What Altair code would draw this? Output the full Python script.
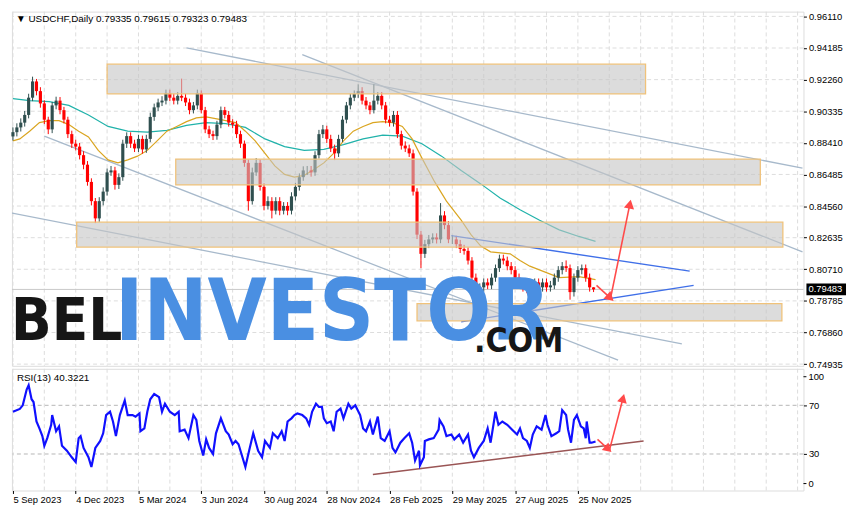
import math
import altair as alt
import pandas as pd

# ---------------- data ----------------
date_labels = ["5 Sep 2023", "4 Dec 2023", "5 Mar 2024", "3 Jun 2024", "30 Aug 2024",
               "28 Nov 2024", "28 Feb 2025", "29 May 2025", "27 Aug 2025", "25 Nov 2025"]
label_bars = [0, 64, 128, 192, 256, 320, 384, 448, 512, 576]
price_ticks = [0.96110, 0.94185, 0.92260, 0.90335, 0.88410, 0.86485,
               0.84560, 0.82635, 0.80710, 0.78785, 0.76860, 0.74935]
rsi_levels = [70, 30]

# one candle = 4 daily bars
first_open = 0.8880
closes = [
    0.8906, 0.8935, 0.8964, 0.9011, 0.9116, 0.9215, 0.9156, 0.9081, 0.8982, 0.8923,
    0.9069, 0.9098, 0.9040, 0.8982, 0.8894, 0.8836, 0.8818, 0.8766, 0.8708, 0.8603,
    0.8486, 0.8381, 0.8486, 0.8544, 0.8661, 0.8673, 0.8585, 0.8632, 0.8836, 0.8882,
    0.8836, 0.8807, 0.8865, 0.8801, 0.8865, 0.8999, 0.9057, 0.9087, 0.9098, 0.9145,
    0.9116, 0.9098, 0.9127, 0.9116, 0.9087, 0.9040, 0.9069, 0.9145, 0.9040, 0.8923,
    0.8894, 0.8882, 0.8952, 0.9040, 0.9011, 0.8964, 0.8952, 0.8894, 0.8836, 0.8719,
    0.8486, 0.8661, 0.8719, 0.8573, 0.8457, 0.8486, 0.8428, 0.8486, 0.8428, 0.8457,
    0.8428, 0.8515, 0.8573, 0.8632, 0.8673, 0.8673, 0.8661, 0.8766, 0.8894, 0.8923,
    0.8865, 0.8807, 0.8777, 0.8865, 0.8982, 0.9069, 0.9116, 0.9139, 0.9156, 0.9098,
    0.9069, 0.9040, 0.9098, 0.9127, 0.9069, 0.8982, 0.8964, 0.9011, 0.8894, 0.8824,
    0.8807, 0.8777, 0.8544, 0.8282, 0.8165, 0.8224, 0.8253, 0.8265, 0.8253, 0.8399,
    0.8340, 0.8253, 0.8253, 0.8224, 0.8195, 0.8183, 0.8124, 0.8020, 0.7932, 0.7961,
    0.7991, 0.7973, 0.8020, 0.8078, 0.8136, 0.8124, 0.8090, 0.8066, 0.8020, 0.7991,
    0.7961, 0.7950, 0.7903, 0.7991, 0.7961, 0.7991, 0.7961, 0.7973, 0.8020, 0.8066,
    0.8090, 0.8078, 0.7932, 0.8020, 0.8066, 0.8078, 0.8020, 0.7961, 0.79483]
highs = [
    0.8935, 0.8960, 0.8990, 0.9035, 0.9140, 0.9244, 0.9230, 0.9180, 0.9100, 0.9000,
    0.9090, 0.9122, 0.9120, 0.9060, 0.9000, 0.8915, 0.8860, 0.8840, 0.8790, 0.8730,
    0.8625, 0.8505, 0.8510, 0.8570, 0.8685, 0.8700, 0.8695, 0.8655, 0.8860, 0.8905,
    0.8905, 0.8860, 0.8890, 0.8885, 0.8890, 0.9025, 0.9080, 0.9110, 0.9125, 0.9165,
    0.9165, 0.9140, 0.9150, 0.9232, 0.9140, 0.9110, 0.9090, 0.9165, 0.9160, 0.9060,
    0.8945, 0.8915, 0.8975, 0.9062, 0.9060, 0.9035, 0.8985, 0.8975, 0.8915, 0.8855,
    0.8740, 0.8690, 0.8748, 0.8740, 0.8595, 0.8515, 0.8510, 0.8510, 0.8510, 0.8480,
    0.8480, 0.8540, 0.8598, 0.8655, 0.8698, 0.8700, 0.8700, 0.8790, 0.8920, 0.8950,
    0.8945, 0.8890, 0.8830, 0.8890, 0.9005, 0.9090, 0.9140, 0.9160, 0.9197, 0.9180,
    0.9120, 0.9090, 0.9197, 0.9150, 0.9150, 0.9090, 0.9005, 0.9035, 0.9035, 0.8915,
    0.8850, 0.8830, 0.8800, 0.8565, 0.8305, 0.8250, 0.8280, 0.8290, 0.8290, 0.8474,
    0.8425, 0.8365, 0.8280, 0.8275, 0.8250, 0.8220, 0.8205, 0.8145, 0.8045, 0.7985,
    0.8015, 0.8015, 0.8045, 0.8100, 0.8160, 0.8160, 0.8148, 0.8115, 0.8090, 0.8045,
    0.8015, 0.7985, 0.7975, 0.8015, 0.8015, 0.8015, 0.8015, 0.8000, 0.8045, 0.8090,
    0.8115, 0.8125, 0.8100, 0.8045, 0.8090, 0.8100, 0.8100, 0.8045, 0.79615]
lows = [
    0.8855, 0.8880, 0.8910, 0.8940, 0.8990, 0.9095, 0.9130, 0.9055, 0.8955, 0.8894,
    0.8900, 0.9045, 0.9015, 0.8960, 0.8870, 0.8810, 0.8795, 0.8740, 0.8680, 0.8580,
    0.8460, 0.8352, 0.8360, 0.8460, 0.8520, 0.8640, 0.8556, 0.8560, 0.8610, 0.8810,
    0.8810, 0.8785, 0.8785, 0.8775, 0.8780, 0.8845, 0.8975, 0.9035, 0.9065, 0.9075,
    0.9095, 0.9075, 0.9075, 0.9095, 0.9065, 0.9015, 0.9020, 0.9045, 0.9020, 0.8900,
    0.8870, 0.8858, 0.8860, 0.8930, 0.8990, 0.8940, 0.8930, 0.8870, 0.8810, 0.8695,
    0.8428, 0.8465, 0.8640, 0.8550, 0.8430, 0.8435, 0.8381, 0.8405, 0.8400, 0.8405,
    0.8400, 0.8405, 0.8490, 0.8550, 0.8610, 0.8645, 0.8635, 0.8640, 0.8745, 0.8870,
    0.8840, 0.8785, 0.8736, 0.8755, 0.8845, 0.8960, 0.9045, 0.9095, 0.9115, 0.9075,
    0.9045, 0.9015, 0.9020, 0.9075, 0.9045, 0.8960, 0.8940, 0.8940, 0.8870, 0.8800,
    0.8785, 0.8755, 0.8520, 0.8255, 0.8078, 0.8140, 0.8200, 0.8230, 0.8228, 0.8230,
    0.8315, 0.8230, 0.8225, 0.8200, 0.8170, 0.8160, 0.8100, 0.7995, 0.7874, 0.7905,
    0.7935, 0.7950, 0.7950, 0.7995, 0.8055, 0.8100, 0.8065, 0.8040, 0.7995, 0.7965,
    0.7935, 0.7925, 0.7833, 0.7880, 0.7935, 0.7935, 0.7935, 0.7935, 0.7950, 0.7995,
    0.8040, 0.8055, 0.7886, 0.7905, 0.7995, 0.8040, 0.7995, 0.7935, 0.79323]

slow_ma_bar = [0, 17, 37, 57, 77, 97, 117, 137, 157, 177, 197, 217, 237, 257, 277, 297,
               317, 337, 357, 377, 397, 417, 437, 457, 477, 497, 517, 537, 557, 577, 594]
slow_ma = [0.9110, 0.9098, 0.9092, 0.9069, 0.9011, 0.8941, 0.8912, 0.8906, 0.8917, 0.8947,
           0.8964, 0.8958, 0.8935, 0.8865, 0.8818, 0.8795, 0.8801, 0.8830, 0.8865, 0.8888,
           0.8882, 0.8836, 0.8760, 0.8673, 0.8591, 0.8504, 0.8434, 0.8370, 0.8311, 0.8271, 0.8241]
fast_ma_bar = [0, 7, 17, 27, 37, 47, 57, 67, 77, 87,
               97, 107, 117, 127, 137, 147, 157, 167, 177, 187,
               197, 212, 227, 237, 247, 257, 267, 277, 287, 297,
               307, 317, 327, 337, 347, 357, 367, 377, 387, 397,
               407, 417, 430, 442, 457, 467, 477, 487, 497, 507,
               517, 527, 542, 557, 577, 594]
fast_ma = [0.8853, 0.8865, 0.8912, 0.8964, 0.8976, 0.8976, 0.8952, 0.8912, 0.8877, 0.8795,
           0.8737, 0.8719, 0.8737, 0.8760, 0.8795, 0.8853, 0.8912, 0.8941, 0.8970, 0.8993,
           0.8999, 0.8982, 0.8964, 0.8912, 0.8853, 0.8777, 0.8701, 0.8649, 0.8632, 0.8643,
           0.8678, 0.8719, 0.8777, 0.8853, 0.8912, 0.8941, 0.8964, 0.8970, 0.8964, 0.8941,
           0.8865, 0.8748, 0.8603, 0.8486, 0.8370, 0.8282, 0.8212, 0.8177, 0.8171, 0.8165,
           0.8124, 0.8090, 0.8055, 0.8020, 0.8026, 0.8008]

# supply / demand zones
zone_x0 = [96, 166, 65, 412]
zone_x1 = [645, 762, 785, 784]
zone_top = [0.9320, 0.8742, 0.8358, 0.7862]
zone_bottom = [0.9139, 0.8585, 0.8206, 0.7757]

# grey channel lines
trend_x0 = [177, 295, 32, -3]
trend_x1 = [805, 805, 617, 682]
trend_y0 = [0.9419, 0.9378, 0.8882, 0.8416]
trend_y1 = [0.8687, 0.8177, 0.7518, 0.7617]

# blue triangle lines
tri_x0 = [447, 457]
tri_x1 = [690, 694]
tri_y0 = [0.8276, 0.7751]
tri_y1 = [0.8060, 0.7973]

# forecast arrows (price)
arr_x0 = [595, 609]
arr_x1 = [609, 629]
arr_y0 = [0.7973, 0.7886]
arr_y1 = [0.7897, 0.8468]

# RSI(13)
rsi_bar = [0, 7, 10, 14, 16, 19, 21, 24, 27, 30,
           32, 35, 39, 40, 44, 47, 50, 55, 60, 64,
           67, 69, 72, 77, 80, 84, 89, 92, 95, 99,
           102, 105, 109, 114, 117, 122, 125, 129, 130, 134,
           137, 140, 144, 149, 152, 155, 160, 165, 169, 170,
           175, 179, 184, 187, 190, 194, 197, 200, 204, 207,
           212, 217, 220, 224, 227, 230, 234, 237, 240, 245,
           250, 254, 257, 262, 265, 270, 274, 277, 280, 284,
           287, 290, 295, 299, 302, 305, 309, 312, 315, 317,
           320, 324, 327, 330, 334, 337, 342, 345, 349, 354,
           357, 360, 364, 367, 372, 375, 379, 384, 387, 390,
           395, 399, 404, 407, 410, 414, 415, 419, 420, 424,
           429, 434, 435, 439, 442, 447, 450, 455, 459, 464,
           467, 470, 475, 480, 484, 487, 492, 495, 499, 504,
           509, 514, 517, 520, 524, 527, 530, 534, 539, 543,
           545, 549, 554, 557, 560, 564, 566, 569, 572, 575,
           579, 582, 584, 585, 588, 590, 594]
rsi_val = [64.7, 67.0, 70.0, 83.0, 86.5, 75.0, 72.7, 56.7, 51.0, 44.7,
           36.7, 43.0, 54.0, 62.0, 48.7, 52.7, 36.7, 32.7, 27.3, 23.3,
           43.0, 44.7, 35.0, 27.3, 19.3, 35.0, 40.7, 47.0, 62.0, 64.7,
           56.7, 44.7, 62.0, 74.0, 62.0, 62.0, 60.7, 63.3, 48.7, 51.0,
           64.7, 75.0, 79.3, 76.7, 64.7, 71.3, 64.7, 62.0, 64.7, 48.7,
           50.0, 43.0, 62.0, 58.0, 40.7, 28.7, 42.0, 35.0, 30.0, 47.0,
           59.3, 48.7, 46.0, 38.0, 40.7, 38.0, 27.3, 19.3, 30.0, 47.0,
           32.7, 27.3, 40.7, 35.0, 47.0, 43.0, 48.7, 40.7, 56.7, 59.3,
           62.0, 63.3, 62.0, 59.3, 54.0, 64.7, 71.3, 68.7, 68.7, 59.3,
           55.3, 56.7, 48.7, 64.7, 67.3, 59.3, 71.3, 67.3, 70.0, 62.0,
           51.0, 48.7, 56.7, 46.0, 60.7, 43.0, 40.7, 48.7, 35.0, 31.3,
           39.3, 43.0, 47.0, 39.3, 24.7, 32.7, 20.7, 27.3, 40.7, 42.0,
           43.0, 50.0, 58.0, 52.7, 44.7, 46.0, 42.0, 46.0, 39.3, 46.0,
           32.7, 27.3, 35.0, 40.7, 51.0, 39.3, 64.7, 54.0, 56.7, 54.0,
           50.0, 46.0, 51.0, 43.0, 40.7, 35.0, 46.0, 52.7, 50.0, 62.0,
           54.0, 44.7, 47.0, 48.7, 66.0, 62.0, 50.0, 39.3, 58.0, 62.0,
           52.7, 51.0, 43.0, 56.7, 39.3, 39.3, 40.3]
rsi_sup_x = [367, 643]
rsi_sup_y = [13.2, 40.7]
rarr_x0 = [596, 608]
rarr_x1 = [607, 622]
rarr_y0 = [42.0, 32.6]
rarr_y1 = [34.0, 75.8]

last_price = 0.79483
title_text = "\u25bc USDCHF,Daily  0.79335 0.79615 0.79323 0.79483"
rsi_text = "RSI(13) 40.3221"
wm_text = ["BEL", "INVESTOR", ".COM"]
wm_bar = [-2, 104, 470]
wm_price = [0.7641, 0.7641, 0.7565]
wm_size = [60, 86, 34]
wm_color = ["#161616", "#4a8fe2", "#161616"]

assert len(closes) == len(highs) == len(lows)
assert len(rsi_bar) == len(rsi_val)
assert len(fast_ma) == len(fast_ma_bar) and len(slow_ma) == len(slow_ma_bar)

# ---------------- layout ----------------
W, H1, H2 = 800, 358, 123
X_DOM = [-1, 806]
P_DOM = [0.7483, 0.9640]
R_DOM = [0, 100]
FONT = "Liberation Sans"
FS = 9.5
WMFONT = "Liberation Sans Narrow, DejaVu Sans Condensed, Liberation Sans, sans-serif"

xs = alt.Scale(domain=X_DOM, nice=False, zero=False)
ps = alt.Scale(domain=P_DOM, nice=False, zero=False)
rs = alt.Scale(domain=R_DOM, nice=False, zero=False)

price_axis = alt.Axis(orient="right", values=price_ticks, format=".5f", title=None, grid=False,
                      domain=False, ticks=True, tickSize=3, tickColor="black", labelPadding=2,
                      labelFont=FONT, labelFontSize=FS, labelColor="black")
rsi_axis = alt.Axis(orient="right", values=rsi_levels, format="d", title=None, grid=False,
                    domain=False, tickSize=3, tickColor="black", labelPadding=2, labelFont=FONT,
                    labelFontSize=FS, labelColor="black")
label_expr = ("[" + ",".join(f"'{s}'" for s in date_labels) + "][indexof(["
              + ",".join(str(b) for b in label_bars) + "], datum.value)]")
time_axis = alt.Axis(orient="bottom", values=label_bars, labelExpr=label_expr, title=None,
                     grid=False, domain=False, tickSize=3, tickColor="black", labelAlign="left",
                     labelPadding=1, labelFont=FONT, labelFontSize=FS, labelColor="black",
                     labelOverlap=False, labelBound=False, labelFlush=False)


def PX(f):
    return alt.X(f, scale=xs, axis=None)


def RX(f):
    return alt.X(f, scale=xs, axis=time_axis)


def PY(f):
    return alt.Y(f, scale=ps, axis=price_axis)


def RY(f):
    return alt.Y(f, scale=rs, axis=rsi_axis)


px_bar = W / (X_DOM[1] - X_DOM[0])
px_p = H1 / (P_DOM[1] - P_DOM[0])
px_r = H2 / (R_DOM[1] - R_DOM[0])


def heading(x0, x1, y0, y1, ky):
    dx = (x1 - x0) * px_bar
    dy = -(y1 - y0) * ky
    return math.degrees(math.atan2(dx, -dy)) % 360


# candles
opens = [first_open] + closes[:-1]
bars = [4 * k for k in range(len(closes))]
cdf = pd.DataFrame({
    "bar": bars,
    "x0": [b - 1.6 for b in bars],
    "x1": [b + 1.6 for b in bars],
    "open": opens, "close": closes, "high": highs, "low": lows,
    "dir": ["up" if c >= o else "down" for o, c in zip(opens, closes)],
})
ccol = alt.Color("dir:N", scale=alt.Scale(domain=["up", "down"], range=["#2f4f4f", "#ff0000"]), legend=None)

vgrid_df = pd.DataFrame({"b": list(range(0, 801, 32))})
vgrid_p = alt.Chart(vgrid_df).mark_rule(color="#dddddd", strokeDash=[4, 3], strokeWidth=1).encode(x=PX("b:Q"))
vgrid_r = alt.Chart(vgrid_df).mark_rule(color="#dddddd", strokeDash=[4, 3], strokeWidth=1).encode(x=RX("b:Q"))

hgrid = alt.Chart(pd.DataFrame({"p": price_ticks})).mark_rule(
    color="#dddddd", strokeDash=[4, 3], strokeWidth=1).encode(y=PY("p:Q"))

bid = alt.Chart(pd.DataFrame({"p": [last_price]})).mark_rule(color="#c8c8c8", strokeWidth=1).encode(y=PY("p:Q"))

trend_df = pd.DataFrame({"x0": trend_x0, "x1": trend_x1, "y0": trend_y0, "y1": trend_y1})
trend = alt.Chart(trend_df).mark_rule(color="#a7b9cb", strokeWidth=1.3, clip=True).encode(
    x=PX("x0:Q"), x2="x1:Q", y=PY("y0:Q"), y2="y1:Q")

slow = alt.Chart(pd.DataFrame({"bar": slow_ma_bar, "v": slow_ma})).mark_line(
    color="#20b2aa", strokeWidth=1.2).encode(x=PX("bar:Q"), y=PY("v:Q"))
fast = alt.Chart(pd.DataFrame({"bar": fast_ma_bar, "v": fast_ma})).mark_line(
    color="#daa520", strokeWidth=1.2).encode(x=PX("bar:Q"), y=PY("v:Q"))

wicks = alt.Chart(cdf).mark_rule(strokeWidth=1).encode(x=PX("bar:Q"), y=PY("low:Q"), y2="high:Q", color=ccol)
bodies = alt.Chart(cdf).mark_rect().encode(x=PX("x0:Q"), x2="x1:Q", y=PY("open:Q"), y2="close:Q", color=ccol)

tri_df = pd.DataFrame({"x0": tri_x0, "x1": tri_x1, "y0": tri_y0, "y1": tri_y1})
tri = alt.Chart(tri_df).mark_rule(color="#3f6fe8", strokeWidth=1.4).encode(
    x=PX("x0:Q"), x2="x1:Q", y=PY("y0:Q"), y2="y1:Q")

zone_df = pd.DataFrame({"x0": zone_x0, "x1": zone_x1, "top": zone_top, "bottom": zone_bottom})
zones = alt.Chart(zone_df).mark_rect(fill="#c5c5c5", fillOpacity=0.6, stroke="#f0c27a",
                                      strokeWidth=1.3, clip=True).encode(
    x=PX("x0:Q"), x2="x1:Q", y=PY("top:Q"), y2="bottom:Q")

arr_df = pd.DataFrame({"x0": arr_x0, "x1": arr_x1, "y0": arr_y0, "y1": arr_y1})
arr_df["ang"] = [heading(a, b, c, d, px_p) for a, b, c, d in zip(arr_x0, arr_x1, arr_y0, arr_y1)]
arr_lines = alt.Chart(arr_df).mark_rule(color="#ff4a4a", strokeWidth=1.6).encode(
    x=PX("x0:Q"), x2="x1:Q", y=PY("y0:Q"), y2="y1:Q")
arr_heads = alt.Chart(arr_df).mark_point(shape="triangle-up", filled=True, size=110,
                                         color="#ff4a4a", opacity=1).encode(
    x=PX("x1:Q"), y=PY("y1:Q"), angle=alt.Angle("ang:Q", scale=None))

wm_df = pd.DataFrame({"t": wm_text, "bar": wm_bar, "p": wm_price, "fs": wm_size, "c": wm_color})
watermark = alt.Chart(wm_df).mark_text(align="left", baseline="alphabetic", font=WMFONT,
                                       fontWeight="bold").encode(
    x=PX("bar:Q"), y=PY("p:Q"), text="t:N", size=alt.Size("fs:Q", scale=None),
    color=alt.Color("c:N", scale=None))

title = alt.Chart(pd.DataFrame({"t": [title_text]})).mark_text(
    align="left", baseline="alphabetic", font=FONT, fontSize=10, color="black").encode(
    x=alt.value(4), y=alt.value(10), text="t:N")

tag_df = pd.DataFrame({"p": [last_price], "top": [last_price + 0.0036], "bot": [last_price - 0.0036],
                       "t": [f"{last_price:.5f}"]})
tag_box = alt.Chart(tag_df).mark_rect(color="black").encode(
    x=alt.value(W + 3), x2=alt.value(W + 43), y=PY("top:Q"), y2="bot:Q")
tag_txt = alt.Chart(tag_df).mark_text(align="left", baseline="middle", font=FONT, fontSize=FS,
                                      color="white").encode(x=alt.value(W + 5), y=PY("p:Q"), text="t:N")

price = alt.layer(hgrid, vgrid_p, bid, trend, slow, fast, wicks, bodies, tri, zones,
                  arr_lines, arr_heads, watermark, title, tag_box, tag_txt).properties(width=W, height=H1)

# ---------------- RSI panel ----------------
levels = alt.Chart(pd.DataFrame({"v": rsi_levels})).mark_rule(
    color="#b5b5b5", strokeDash=[4, 3], strokeWidth=1).encode(y=RY("v:Q"))

rsi_line = alt.Chart(pd.DataFrame({"bar": rsi_bar, "v": rsi_val})).mark_line(
    color="#1010ff", strokeWidth=2.2).encode(x=RX("bar:Q"), y=RY("v:Q"))

sup = alt.Chart(pd.DataFrame({"x0": [rsi_sup_x[0]], "x1": [rsi_sup_x[1]],
                              "y0": [rsi_sup_y[0]], "y1": [rsi_sup_y[1]]})).mark_rule(
    color="#9a5555", strokeWidth=1.6).encode(x=RX("x0:Q"), x2="x1:Q", y=RY("y0:Q"), y2="y1:Q")

rarr_df = pd.DataFrame({"x0": rarr_x0, "x1": rarr_x1, "y0": rarr_y0, "y1": rarr_y1})
rarr_df["ang"] = [heading(a, b, c, d, px_r) for a, b, c, d in zip(rarr_x0, rarr_x1, rarr_y0, rarr_y1)]
rarr_lines = alt.Chart(rarr_df).mark_rule(color="#ff4a4a", strokeWidth=1.6).encode(
    x=RX("x0:Q"), x2="x1:Q", y=RY("y0:Q"), y2="y1:Q")
rarr_heads = alt.Chart(rarr_df).mark_point(shape="triangle-up", filled=True, size=100,
                                           color="#ff4a4a", opacity=1).encode(
    x=RX("x1:Q"), y=RY("y1:Q"), angle=alt.Angle("ang:Q", scale=None))

rsi_label = alt.Chart(pd.DataFrame({"t": [rsi_text]})).mark_text(
    align="left", baseline="alphabetic", font=FONT, fontSize=10, color="black").encode(
    x=alt.value(5), y=alt.value(12), text="t:N")

edge_top = alt.Chart(pd.DataFrame({"v": [100], "t": ["100"]})).mark_text(
    align="left", baseline="middle", dy=8, font=FONT, fontSize=FS, color="black").encode(
    x=alt.value(W + 5), y=RY("v:Q"), text="t:N")
edge_bot = alt.Chart(pd.DataFrame({"v": [0], "t": ["0"]})).mark_text(
    align="left", baseline="middle", dy=-7, font=FONT, fontSize=FS, color="black").encode(
    x=alt.value(W + 5), y=RY("v:Q"), text="t:N")
tick_top = alt.Chart(pd.DataFrame({"v": [100]})).mark_rule(color="black", yOffset=8).encode(
    x=alt.value(W), x2=alt.value(W + 3), y=RY("v:Q"))
tick_bot = alt.Chart(pd.DataFrame({"v": [0]})).mark_rule(color="black", yOffset=-7).encode(
    x=alt.value(W), x2=alt.value(W + 3), y=RY("v:Q"))

rsi = alt.layer(levels, vgrid_r, sup, rsi_line, rarr_lines, rarr_heads, rsi_label,
                edge_top, edge_bot, tick_top, tick_bot).properties(width=W, height=H2)

chart = alt.vconcat(price, rsi, spacing=3, bounds="flush").properties(
    padding={"left": 0, "top": 0, "right": 0, "bottom": 0}
).configure_view(stroke="black", strokeWidth=1).configure(background="white")

chart.save("out.html", embed_options={"renderer": "svg", "actions": False})
